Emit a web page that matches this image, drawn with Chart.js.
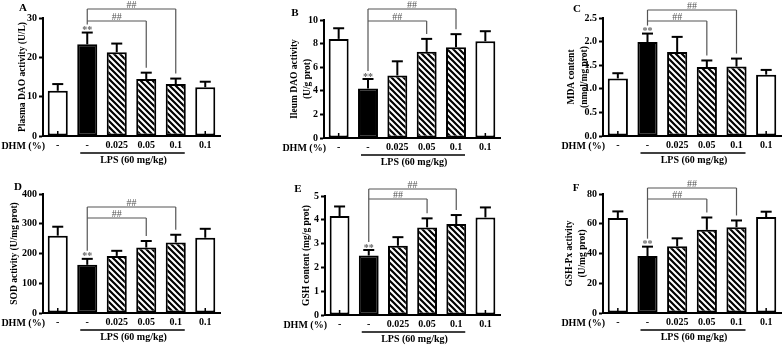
<!DOCTYPE html>
<html>
<head>
<meta charset="utf-8">
<script src="https://cdn.jsdelivr.net/npm/chart.js@4.4.0/dist/chart.umd.min.js"></script>
<style>
html, body { margin: 0; padding: 0; background: #fff; }
#wrap { position: relative; width: 784px; height: 347px; overflow: hidden; }
#wrap canvas { position: absolute; }
</style>
</head>
<body>
<div id="wrap"></div>
<script>
// groups on the x axis (DHM %)
const groups = ['-', '-', '0.025', '0.05', '0.1', '0.1'];

// mean and SD
const meanA = [11.5, 23.3, 21.3, 14.5, 13.2, 12.4];
const errA  = [1.7, 3.0, 2.2, 1.6, 1.4, 1.4];
const meanB = [8.4, 4.2, 5.3, 7.3, 7.7, 8.2];
const errB  = [0.9, 0.8, 1.2, 1.1, 1.1, 0.85];
const meanC = [1.22, 1.99, 1.78, 1.46, 1.47, 1.30];
const errC  = [0.11, 0.18, 0.32, 0.14, 0.17, 0.10];
const meanD = [260, 162, 192, 220, 237, 253];
const errD  = [30, 20, 17, 22, 26, 30];
const meanE = [4.16, 2.50, 2.91, 3.68, 3.82, 4.10];
const errE  = [0.40, 0.23, 0.36, 0.38, 0.38, 0.42];
const meanF = [63.8, 38.3, 44.8, 55.9, 57.7, 64.5];
const errF  = [4.5, 6.3, 5.4, 8.3, 4.5, 3.6];

const yTitles = [
  'Plasma DAO activity (U/L)',
  ['Ileum DAO activity', '(U/g prot)'],
  ['MDA content', '(nmol/mg prot)'],
  'SOD activity (U/mg prot)',
  'GSH content (mg/g prot)',
  ['GSH-Px activity', '(U/mg prot)']
];
const yMax  = [30, 10, 2.5, 400, 5, 80];
const yStep = [10, 2, 0.5, 100, 1, 20];
const yDec  = [0, 0, 1, 0, 0, 0];

const FONT = "'Liberation Serif', 'Times New Roman', serif";

// hatch pattern for the DHM-treated LPS groups
function makeHatch() {
  const c = document.createElement('canvas');
  c.width = 6; c.height = 6;
  const g = c.getContext('2d');
  g.fillStyle = '#fff';
  g.fillRect(0, 0, 6, 6);
  g.strokeStyle = '#000';
  g.lineWidth = 2.2;
  g.beginPath();
  g.moveTo(-1, -1); g.lineTo(7, 7);
  g.moveTo(-4, 2); g.lineTo(4, 10);
  g.moveTo(2, -4); g.lineTo(10, 4);
  g.stroke();
  return g.createPattern(c, 'repeat');
}
const hatch = makeHatch();
const fills = ['#fff', '#000', hatch, hatch, hatch, '#fff'];

// panel placement (canvas box and plot area inside it)
const panels = [
  { letter: 'A', mean: meanA, err: errA, x: 0,   y: 0,   w: 260, h: 175, left: 43, right: 220, top: 18, bottom: 136, tpad: 16, lx: 23, ly: 8,  br: [-9, 3] },
  { letter: 'B', mean: meanB, err: errB, x: 260, y: 0,   w: 260, h: 175, left: 64, right: 240, top: 20, bottom: 138, tpad: 28, lx: 35, ly: 13, br: [-11, 1] },
  { letter: 'C', mean: meanC, err: errC, x: 520, y: 0,   w: 264, h: 175, left: 83, right: 261, top: 18, bottom: 136, tpad: 45, lx: 57, ly: 9,  br: [-8, 3] },
  { letter: 'D', mean: meanD, err: errD, x: 0,   y: 175, w: 260, h: 172, left: 43, right: 220, top: 19, bottom: 138, tpad: 8,  lx: 18, ly: 12, br: [13, 24] },
  { letter: 'E', mean: meanE, err: errE, x: 260, y: 175, w: 260, h: 172, left: 65, right: 240, top: 21, bottom: 140, tpad: 40, lx: 38, ly: 14, br: [-7, 3] },
  { letter: 'F', mean: meanF, err: errF, x: 520, y: 175, w: 264, h: 172, left: 83, right: 261, top: 19, bottom: 138, tpad: 43, lx: 56, ly: 13, br: [-6, 5] }
];

function line(ctx, x1, y1, x2, y2) {
  ctx.beginPath(); ctx.moveTo(x1, y1); ctx.lineTo(x2, y2); ctx.stroke();
}

function makeAnnot(p) {
  return {
    id: 'annot' + p.letter,
    afterDatasetsDraw(chart) {
      const ctx = chart.ctx, xs = chart.scales.x, ys = chart.scales.y, ca = chart.chartArea;
      const errTop = i => ys.getPixelForValue(p.mean[i] + p.err[i]);
      ctx.save();
      // error bars
      ctx.strokeStyle = '#000';
      ctx.lineWidth = 2;
      p.mean.forEach((m, i) => {
        const x = xs.getPixelForValue(i);
        const y0 = ys.getPixelForValue(m), y1 = errTop(i);
        line(ctx, x, y0, x, y1);
        line(ctx, x - 5.5, y1, x + 5.5, y1);
      });
      // small base marks in the open bars
      ctx.lineWidth = 1.5;
      [0, 5].forEach(i => {
        const x = xs.getPixelForValue(i);
        line(ctx, x, ca.bottom - 1, x, ca.bottom - 5);
      });
      // ** over the LPS bar
      const x1 = xs.getPixelForValue(1);
      const starY = errTop(1) - 7;
      ctx.fillStyle = '#666';
      ctx.font = 'bold 10px ' + FONT;
      ctx.textAlign = 'center';
      ctx.textBaseline = 'top';
      ctx.fillText('**', x1, starY);
      // ## brackets
      const yOut = ca.top + p.br[0], yIn = ca.top + p.br[1];
      const x3 = xs.getPixelForValue(3), x4 = xs.getPixelForValue(4);
      ctx.strokeStyle = '#555';
      ctx.lineWidth = 1.2;
      line(ctx, x1, yOut, x1, starY - 1);
      line(ctx, x1, yOut, x4, yOut);
      line(ctx, x4, yOut, x4, errTop(4) - 5);
      line(ctx, x1, yIn, x3, yIn);
      line(ctx, x3, yIn, x3, errTop(3) - 5);
      ctx.font = '10px ' + FONT;
      ctx.textBaseline = 'alphabetic';
      ctx.fillStyle = '#555';
      ctx.fillText('##', (x1 + x4) / 2, yOut - 1);
      ctx.fillText('##', (x1 + x3) / 2, yIn - 1);
      ctx.restore();
    },
    afterDraw(chart) {
      const ctx = chart.ctx, xs = chart.scales.x, ca = chart.chartArea;
      ctx.save();
      ctx.fillStyle = '#000';
      ctx.strokeStyle = '#000';
      // panel letter
      ctx.font = 'bold 11px ' + FONT;
      ctx.textAlign = 'center';
      ctx.textBaseline = 'middle';
      ctx.fillText(p.letter, p.lx, p.ly);
      // DHM row label
      ctx.font = 'bold 10px ' + FONT;
      ctx.textAlign = 'right';
      ctx.fillText('DHM (%)', ca.left + 2, ca.bottom + 10);
      // LPS group line
      const x1 = xs.getPixelForValue(1), x4 = xs.getPixelForValue(4);
      ctx.lineWidth = 1.3;
      line(ctx, x1 - 7, ca.bottom + 17, x4 + 9, ca.bottom + 17);
      ctx.textAlign = 'center';
      ctx.fillText('LPS (60 mg/kg)', (x1 + x4) / 2 + 2, ca.bottom + 24);
      ctx.restore();
    }
  };
}

const wrap = document.getElementById('wrap');
panels.forEach((p, k) => {
  const cv = document.createElement('canvas');
  cv.width = p.w; cv.height = p.h;
  cv.style.left = p.x + 'px'; cv.style.top = p.y + 'px';
  cv.style.width = p.w + 'px'; cv.style.height = p.h + 'px';
  wrap.appendChild(cv);
  new Chart(cv.getContext('2d'), {
    type: 'bar',
    data: {
      labels: groups,
      datasets: [{
        data: p.mean,
        backgroundColor: fills,
        borderColor: '#000',
        borderWidth: 2,
        borderSkipped: false,
        barPercentage: 0.68,
        categoryPercentage: 1
      }]
    },
    options: {
      responsive: false,
      animation: false,
      devicePixelRatio: 1,
      layout: { padding: { left: 0, top: p.top, right: p.w - p.right, bottom: 0 } },
      plugins: { legend: { display: false }, tooltip: { enabled: false } },
      scales: {
        x: {
          grid: { display: false, drawTicks: false },
          border: { color: '#000', width: 2 },
          ticks: { color: '#000', padding: 3, font: { family: FONT, size: 10, weight: 'bold' } },
          afterFit: s => { s.height = p.h - p.bottom; }
        },
        y: {
          min: 0,
          max: yMax[k],
          grid: { drawOnChartArea: false, tickLength: 4, tickWidth: 2, tickColor: '#000' },
          border: { color: '#000', width: 2 },
          ticks: {
            stepSize: yStep[k],
            color: '#000',
            padding: 2,
            font: { family: FONT, size: 10, weight: 'bold' },
            callback: v => v.toFixed(yDec[k])
          },
          title: {
            display: true,
            text: yTitles[k],
            color: '#000',
            padding: { top: p.tpad, bottom: 0 },
            font: { family: FONT, size: 9.5, weight: 'bold', lineHeight: 1.35 }
          },
          afterFit: s => { s.width = p.left; }
        }
      }
    },
    plugins: [makeAnnot(p)]
  });
});
</script>
</body>
</html>
